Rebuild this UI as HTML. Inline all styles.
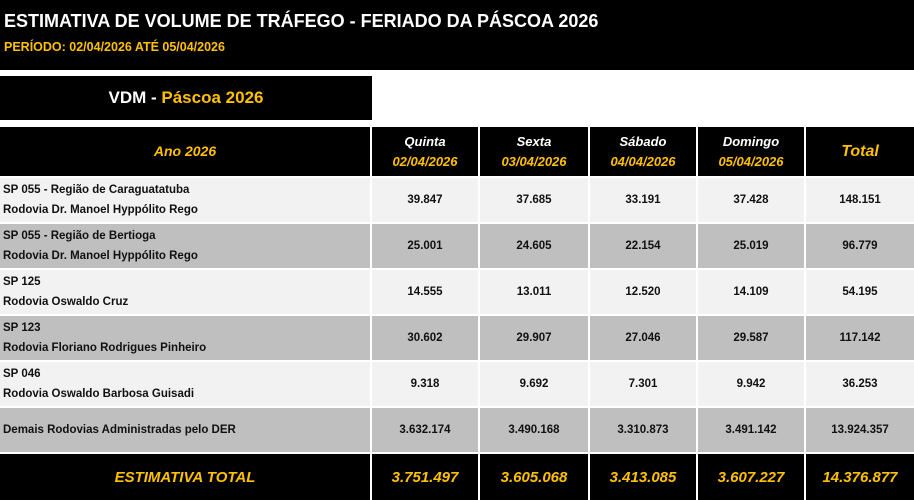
<!DOCTYPE html><html><head><style>
body{margin:0;width:914px;height:500px;background:#fff;font-family:"Liberation Sans",sans-serif;position:relative;overflow:hidden}
.a{position:absolute;box-sizing:border-box}
.c{display:flex;align-items:center;justify-content:center;text-align:center}
.g{color:#ffc000}
.n{font-size:11.5px;font-weight:bold;color:#111}
.l{font-size:11.5px;font-weight:bold;color:#111;padding-left:3px;line-height:20px}
.h{font-size:13px;font-weight:bold;font-style:italic;color:#fff;line-height:20px}
.t{font-size:15px;font-weight:bold;font-style:italic;color:#ffc000}
</style></head><body>
<div class="a" style="left:0;top:0;width:914px;height:70px;background:#000"></div>
<div class="a" style="left:4px;top:11px;color:#fff;font-size:18px;font-weight:bold">ESTIMATIVA DE VOLUME DE TRÁFEGO - FERIADO DA PÁSCOA 2026</div>
<div class="a g" style="left:4px;top:40px;font-size:12.5px;font-weight:bold">PERÍODO: 02/04/2026 ATÉ 05/04/2026</div>
<div class="a c" style="left:0;top:76px;width:372px;height:44px;background:#000;color:#fff;font-size:17px;font-weight:bold"><div>VDM - <span class="g">Páscoa 2026</span></div></div>
<div id="t"></div>
<script>
var X=[0,372,480,590,698,806,914];
var h='';
function cell(x0,x1,y0,y1,bg,cls,txt,left){h+='<div class="a '+(left?'':'c ')+cls+'" style="left:'+x0+'px;top:'+y0+'px;width:'+(x1-x0-(x1<914?2:0))+'px;height:'+(y1-y0-2)+'px;background:'+bg+';'+(left?'padding-top:'+((y1-y0-2-40)/2)+'px':'')+'">'+(left?txt:'<div>'+txt+'</div>')+'</div>';}
var hd=['<span class="g" style="font-size:14px">Ano 2026</span>','Quinta<br><span class="g">02/04/2026</span>','Sexta<br><span class="g">03/04/2026</span>','Sábado<br><span class="g">04/04/2026</span>','Domingo<br><span class="g">05/04/2026</span>','<span class="g" style="font-size:16px">Total</span>'];
for(var i=0;i<6;i++)cell(X[i],X[i+1],127,178,'#000','h',hd[i]);
var R=[['SP 055 - Região de Caraguatatuba<br>Rodovia Dr. Manoel Hyppólito Rego','39.847','37.685','33.191','37.428','148.151'],
['SP 055 - Região de Bertioga<br>Rodovia Dr. Manoel Hyppólito Rego','25.001','24.605','22.154','25.019','96.779'],
['SP 125<br>Rodovia Oswaldo Cruz','14.555','13.011','12.520','14.109','54.195'],
['SP 123<br>Rodovia Floriano Rodrigues Pinheiro','30.602','29.907','27.046','29.587','117.142'],
['SP 046<br>Rodovia Oswaldo Barbosa Guisadi','9.318','9.692','7.301','9.942','36.253'],
['Demais Rodovias Administradas pelo DER','3.632.174','3.490.168','3.310.873','3.491.142','13.924.357']];
for(var r=0;r<6;r++){var y0=178+r*46,bg=r%2?'#bfbfbf':'#f2f2f2';
for(var i=0;i<6;i++){if(i==0&&r==5){h+='<div class="a n" style="left:0;top:'+y0+'px;width:370px;height:44px;background:'+bg+';padding-left:3px;line-height:44px">'+R[r][0]+'</div>';continue;}
cell(X[i],X[i+1],y0,y0+46,bg,i?'n':'l',R[r][i],i==0);}}
var T=['ESTIMATIVA TOTAL','3.751.497','3.605.068','3.413.085','3.607.227','14.376.877'];
for(var i=0;i<6;i++)cell(X[i],X[i+1],454,502,'#000','t',T[i]);
document.getElementById('t').innerHTML=h;
</script>
</body></html>
